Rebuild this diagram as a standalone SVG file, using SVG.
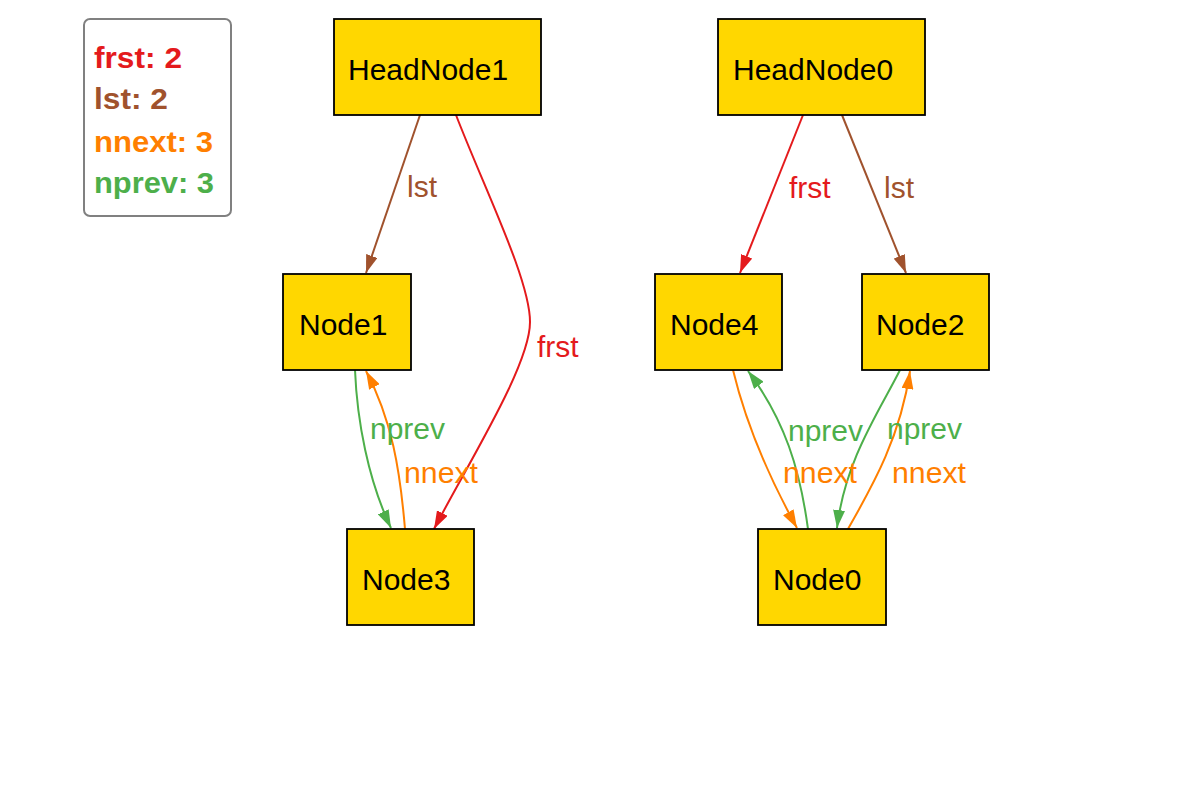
<svg xmlns="http://www.w3.org/2000/svg" width="1201" height="789" viewBox="0 0 1201 789">
<style>
.node rect{fill:#ffd700;stroke:#000;stroke-width:1.8}
.node text{font-family:"Liberation Sans",Arial,sans-serif;font-size:30px;fill:#000}
.e{fill:none;stroke-width:2}
.lbl{font-family:"Liberation Sans",Arial,sans-serif;font-size:30px}
.leg{font-family:"Liberation Sans",Arial,sans-serif;font-size:29px;font-weight:bold}
</style>
<defs>
<marker id="aRed" viewBox="0 0 18 12" refX="18" refY="6" markerWidth="18" markerHeight="12" markerUnits="userSpaceOnUse" orient="auto"><path d="M0,0L18,6L0,12z" fill="#e41a1c"/></marker>
<marker id="aBrown" viewBox="0 0 18 12" refX="18" refY="6" markerWidth="18" markerHeight="12" markerUnits="userSpaceOnUse" orient="auto"><path d="M0,0L18,6L0,12z" fill="#a0522d"/></marker>
<marker id="aOrange" viewBox="0 0 18 12" refX="18" refY="6" markerWidth="18" markerHeight="12" markerUnits="userSpaceOnUse" orient="auto"><path d="M0,0L18,6L0,12z" fill="#ff7f00"/></marker>
<marker id="aGreen" viewBox="0 0 18 12" refX="18" refY="6" markerWidth="18" markerHeight="12" markerUnits="userSpaceOnUse" orient="auto"><path d="M0,0L18,6L0,12z" fill="#4daf4a"/></marker>
</defs>
<rect width="1201" height="789" fill="#fff"/>
<g id="legend">
<rect x="84" y="19" width="147" height="197" rx="6" fill="#fff" stroke="#808080" stroke-width="2"/>
<text class="leg" x="94" y="68" fill="#e41a1c" textLength="88" lengthAdjust="spacingAndGlyphs">frst: 2</text>
<text class="leg" x="94" y="109" fill="#a0522d" textLength="74" lengthAdjust="spacingAndGlyphs">lst: 2</text>
<text class="leg" x="94" y="152" fill="#ff7f00" textLength="119" lengthAdjust="spacingAndGlyphs">nnext: 3</text>
<text class="leg" x="94" y="193" fill="#4daf4a" textLength="120" lengthAdjust="spacingAndGlyphs">nprev: 3</text>
</g>
<g id="edges">
<path class="e" style="stroke:#a0522d" d="M420,115L366,273" marker-end="url(#aBrown)"/>
<path class="e" style="stroke:#e41a1c" d="M456,115C485,190 530,280 530,322C530,365 470,460 434,529" marker-end="url(#aRed)"/>
<path class="e" style="stroke:#4daf4a" d="M355,370C357,420 368,480 391,528" marker-end="url(#aGreen)"/>
<path class="e" style="stroke:#ff7f00" d="M405,529C400,470 392,420 366,371" marker-end="url(#aOrange)"/>
<path class="e" style="stroke:#e41a1c" d="M803,115L740,273" marker-end="url(#aRed)"/>
<path class="e" style="stroke:#a0522d" d="M842,115L906,273" marker-end="url(#aBrown)"/>
<path class="e" style="stroke:#ff7f00" d="M733,370C745,420 765,470 797,528" marker-end="url(#aOrange)"/>
<path class="e" style="stroke:#4daf4a" d="M808,529C800,470 785,420 748,371" marker-end="url(#aGreen)"/>
<path class="e" style="stroke:#4daf4a" d="M900,370C880,410 845,460 837,528" marker-end="url(#aGreen)"/>
<path class="e" style="stroke:#ff7f00" d="M848,529C870,490 900,440 910,371" marker-end="url(#aOrange)"/>
<text class="lbl" x="407" y="197" fill="#a0522d">lst</text>
<text class="lbl" x="537" y="357" fill="#e41a1c">frst</text>
<text class="lbl" x="370" y="439" fill="#4daf4a">nprev</text>
<text class="lbl" x="404" y="483" fill="#ff7f00" textLength="74" lengthAdjust="spacingAndGlyphs">nnext</text>
<text class="lbl" x="789" y="198" fill="#e41a1c">frst</text>
<text class="lbl" x="884" y="198" fill="#a0522d">lst</text>
<text class="lbl" x="788" y="441" fill="#4daf4a">nprev</text>
<text class="lbl" x="783" y="483" fill="#ff7f00" textLength="74" lengthAdjust="spacingAndGlyphs">nnext</text>
<text class="lbl" x="887" y="439" fill="#4daf4a">nprev</text>
<text class="lbl" x="892" y="483" fill="#ff7f00" textLength="74" lengthAdjust="spacingAndGlyphs">nnext</text>
</g>
<g id="HeadNode1" class="node"><rect x="334" y="19" width="207" height="96"/><text x="348" y="80">HeadNode1</text></g>
<g id="HeadNode0" class="node"><rect x="718" y="19" width="207" height="96"/><text x="733" y="80">HeadNode0</text></g>
<g id="Node1" class="node"><rect x="283" y="274" width="128" height="96"/><text x="299" y="335">Node1</text></g>
<g id="Node4" class="node"><rect x="655" y="274" width="127" height="96"/><text x="670" y="335">Node4</text></g>
<g id="Node2" class="node"><rect x="862" y="274" width="127" height="96"/><text x="876" y="335">Node2</text></g>
<g id="Node3" class="node"><rect x="347" y="529" width="127" height="96"/><text x="362" y="590">Node3</text></g>
<g id="Node0" class="node"><rect x="758" y="529" width="128" height="96"/><text x="773" y="590">Node0</text></g>
</svg>
